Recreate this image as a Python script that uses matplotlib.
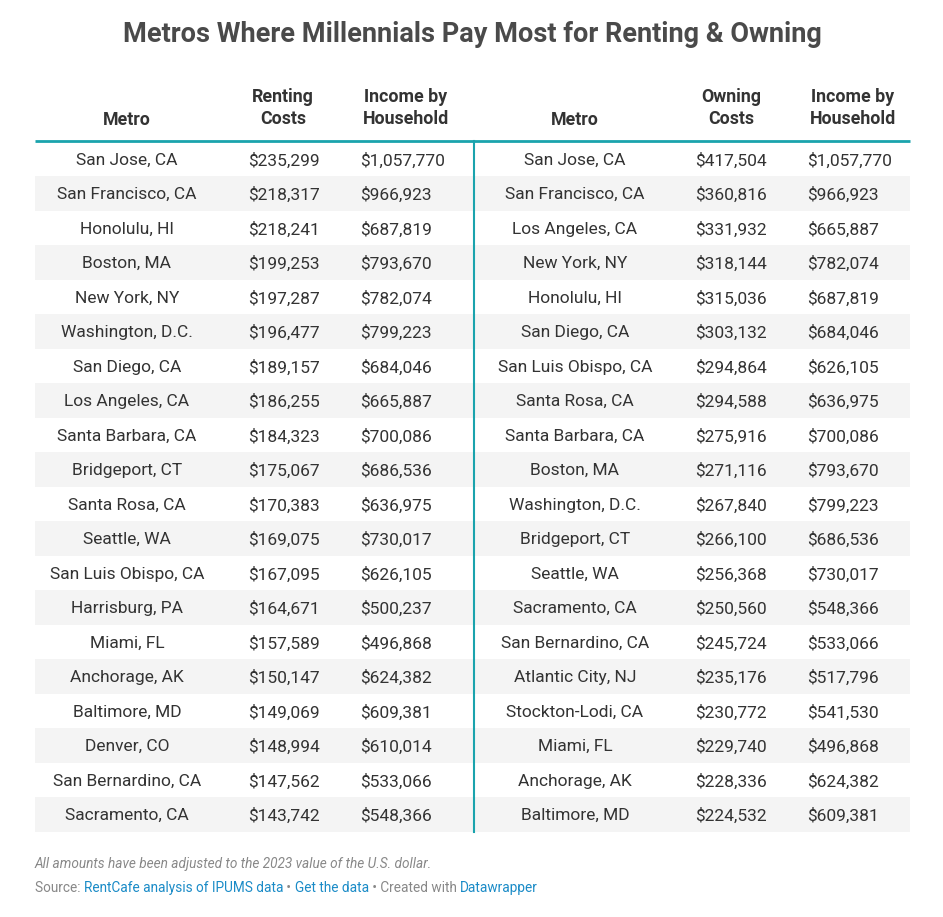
import matplotlib
matplotlib.use("Agg")
import matplotlib.pyplot as plt

left_metro = ["San Jose, CA","San Francisco, CA","Honolulu, HI","Boston, MA","New York, NY","Washington, D.C.","San Diego, CA","Los Angeles, CA","Santa Barbara, CA","Bridgeport, CT","Santa Rosa, CA","Seattle, WA","San Luis Obispo, CA","Harrisburg, PA","Miami, FL","Anchorage, AK","Baltimore, MD","Denver, CO","San Bernardino, CA","Sacramento, CA"]
renting = ["$235,299","$218,317","$218,241","$199,253","$197,287","$196,477","$189,157","$186,255","$184,323","$175,067","$170,383","$169,075","$167,095","$164,671","$157,589","$150,147","$149,069","$148,994","$147,562","$143,742"]
left_income = ["$1,057,770","$966,923","$687,819","$793,670","$782,074","$799,223","$684,046","$665,887","$700,086","$686,536","$636,975","$730,017","$626,105","$500,237","$496,868","$624,382","$609,381","$610,014","$533,066","$548,366"]
right_metro = ["San Jose, CA","San Francisco, CA","Los Angeles, CA","New York, NY","Honolulu, HI","San Diego, CA","San Luis Obispo, CA","Santa Rosa, CA","Santa Barbara, CA","Boston, MA","Washington, D.C.","Bridgeport, CT","Seattle, WA","Sacramento, CA","San Bernardino, CA","Atlantic City, NJ","Stockton-Lodi, CA","Miami, FL","Anchorage, AK","Baltimore, MD"]
owning = ["$417,504","$360,816","$331,932","$318,144","$315,036","$303,132","$294,864","$294,588","$275,916","$271,116","$267,840","$266,100","$256,368","$250,560","$245,724","$235,176","$230,772","$229,740","$228,336","$224,532"]
right_income = ["$1,057,770","$966,923","$665,887","$782,074","$687,819","$684,046","$626,105","$636,975","$700,086","$793,670","$799,223","$686,536","$730,017","$548,366","$533,066","$517,796","$541,530","$496,868","$624,382","$609,381"]

plt.rcParams['font.family'] = ['Roboto', 'DejaVu Sans']
fig = plt.figure(figsize=(9.43, 9.17), dpi=100)
ax = fig.add_axes([0, 0, 1, 1])
ax.set_xlim(0, 943); ax.set_ylim(917, 0); ax.axis('off')

TXT = '#333333'; TEAL = '#1aa3ad'
ax.text(472, 35, "Metros Where Millennials Pay Most for Renting & Owning", ha='center', va='center',
        fontsize=19.5, fontweight='bold', color='#4a4a4a')

hdr = dict(fontsize=12.8, fontweight='bold', color=TXT, va='center', linespacing=1.25)
ax.text(127, 120, "Metro", ha='center', **hdr)
ax.text(283, 108, "Renting\nCosts", ha='center', **hdr)
ax.text(406, 108, "Income by\nHousehold", ha='center', **hdr)
ax.text(575, 120, "Metro", ha='center', **hdr)
ax.text(731, 108, "Owning\nCosts", ha='center', **hdr)
ax.text(853, 108, "Income by\nHousehold", ha='center', **hdr)

top, rh = 141.5, 34.5
n = len(left_metro)
for i in range(n):
    y0 = top + i * rh
    if i % 2 == 1:
        ax.add_patch(plt.Rectangle((35, y0), 875, rh, color='#f4f4f4', lw=0, zorder=0))
    yc = y0 + rh / 2 + 1.5
    kw = dict(fontsize=12.5, color=TXT, va='center')
    ax.text(127, yc, left_metro[i], ha='center', **kw)
    ax.text(248, yc, renting[i], ha='left', **kw)
    ax.text(360, yc, left_income[i], ha='left', **kw)
    ax.text(575, yc, right_metro[i], ha='center', **kw)
    ax.text(695, yc, owning[i], ha='left', **kw)
    ax.text(807, yc, right_income[i], ha='left', **kw)

ax.plot([35, 910], [140.5, 140.5], color=TEAL, lw=2, solid_capstyle='butt')
ax.plot([474, 474], [140.5, top + n * rh], color=TEAL, lw=1.5)

ax.text(35, 864, "All amounts have been adjusted to the 2023 value of the U.S. dollar.", ha='left', va='center',
        fontsize=9.8, style='italic', color='#888888')

parts = [("Source: ", '#888888'), ("RentCafe analysis of IPUMS data", '#1a8bc7'), (" • ", '#888888'),
         ("Get the data", '#1a8bc7'), (" • Created with ", '#888888'), ("Datawrapper", '#1a8bc7')]
fig.canvas.draw()
r = fig.canvas.get_renderer()
x = 35
for s, c in parts:
    t = ax.text(x, 888, s, ha='left', va='center', fontsize=9.8, color=c)
    bb = t.get_window_extent(renderer=r)
    x += bb.width * 943 / fig.bbox.width
fig.savefig("out.png", dpi=100)
